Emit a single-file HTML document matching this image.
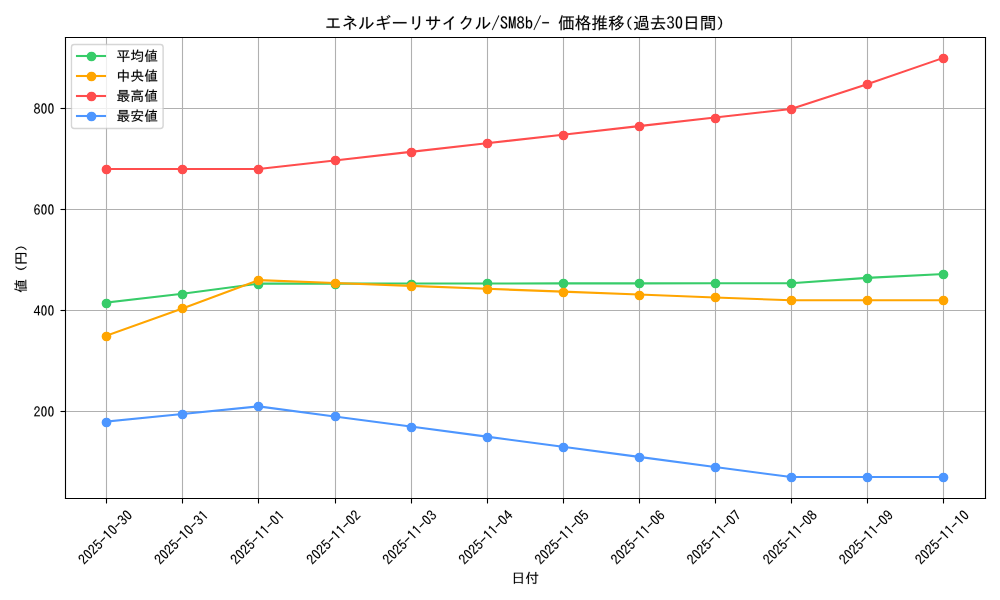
<!DOCTYPE html>
<html><head><meta charset="utf-8"><title>chart</title>
<style>html,body{margin:0;padding:0;background:#fff;width:1000px;height:600px;overflow:hidden;font-family:"Liberation Sans",sans-serif}svg{display:block}g[id^="text_"] use{stroke:#000;stroke-width:60}</style>
</head><body>
<svg width="1000" height="600" viewBox="0 0 720 432" version="1.1">
<defs>
<style type="text/css">*{stroke-linejoin: round; stroke-linecap: butt}</style>
</defs>
<g id="figure_1">
<g id="patch_1">
<path d="M 0 432
L 720 432
L 720 0
L 0 0
z
" style="fill: #ffffff"/>
</g>
<g id="axes_1">
<g id="patch_2">
<path d="M 46.4472 358.56
L 709.2 358.56
L 709.2 26.64
L 46.4472 26.64
z
" style="fill: #ffffff"/>
</g>
<g id="matplotlib.axis_1">
<g id="xtick_1">
<g id="line2d_1">
<path d="M 76.68 358.92 L 76.68 27" clip-path="url(#p00c736a23d)" style="fill: none; stroke: #b0b0b0; stroke-width: 0.8; stroke-linecap: square"/>
</g>
<g id="line2d_2">
<defs>
<path id="m1504cfccaf" d="M 0.36 0.36 L 0.36 3.96" style="stroke: #000000; stroke-width: 0.8"/>
</defs>
<g>
<use href="#m1504cfccaf" x="76.32" y="358.56" style="stroke: #000000; stroke-width: 0.8"/>
</g>
</g>
<g id="text_1">
<!-- 2025-10-30 -->
<g transform="translate(60.789481 407.161269) rotate(-45) scale(0.1 -0.1)">
<defs>
<path id="IPAGothicMS-32" d="M 2900 325
L 250 325
Q 441 1553 1528 2453
Q 1963 2806 2116 3034
Q 2316 3319 2316 3706
Q 2316 4022 2175 4219
Q 1994 4494 1631 4494
Q 894 4494 825 3406
L 322 3406
Q 359 4056 628 4428
Q 981 4928 1644 4928
Q 2106 4928 2425 4659
Q 2828 4313 2828 3713
Q 2828 2875 1881 2156
Q 1072 1541 909 800
L 2900 800
L 2900 325
z
" transform="scale(0.015625)"/>
<path id="IPAGothicMS-30" d="M 1600 4934
Q 2844 4934 2844 2566
Q 2844 197 1600 197
Q 359 197 359 2566
Q 359 4934 1600 4934
z
M 2304 2189
Q 2331 2566 2304 2942
Q 2278 3319 2198 3637
Q 2119 3956 2000 4168
Q 1881 4381 1740 4456
Q 1600 4531 1461 4456
Q 1322 4381 1203 4168
Q 1084 3956 1004 3637
Q 925 3319 898 2942
Q 872 2566 898 2189
Q 925 1813 1004 1494
Q 1084 1175 1203 962
Q 1322 750 1461 675
Q 1600 600 1740 675
Q 1881 750 2000 962
Q 2119 1175 2198 1494
Q 2278 1813 2304 2189
z
" transform="scale(0.015625)"/>
<path id="IPAGothicMS-35" d="M 566 4806
L 2691 4806
L 2691 4359
L 1013 4359
L 944 2888
Q 1259 3250 1738 3250
Q 2250 3250 2588 2816
Q 2909 2397 2909 1772
Q 2909 1238 2697 844
Q 2341 197 1591 197
Q 538 197 328 1375
L 841 1375
Q 947 644 1588 644
Q 2000 644 2228 997
Q 2422 1294 2422 1766
Q 2422 2184 2259 2456
Q 2059 2822 1653 2822
Q 1156 2822 859 2225
L 456 2309
L 566 4806
z
" transform="scale(0.015625)"/>
<path id="IPAGothicMS-2d" d="M 313 2663
L 2884 2663
L 2884 2203
L 313 2203
L 313 2663
z
" transform="scale(0.015625)"/>
<path id="IPAGothicMS-31" d="M 1428 325
L 1428 4153
Q 1188 3991 756 3809
L 756 4325
Q 1256 4509 1563 4806
L 1953 4806
L 1953 325
L 1428 325
z
" transform="scale(0.015625)"/>
<path id="IPAGothicMS-33" d="M 1113 2931
L 1431 2931
Q 1841 2931 1994 3047
Q 2281 3269 2281 3713
Q 2281 4500 1566 4500
Q 972 4500 838 3828
L 331 3828
Q 400 4250 625 4525
Q 969 4934 1566 4934
Q 2066 4934 2391 4647
Q 2775 4309 2775 3731
Q 2775 2953 2078 2713
Q 2919 2388 2919 1528
Q 2919 978 2606 625
Q 2231 197 1575 197
Q 959 197 594 619
Q 325 928 269 1472
L 794 1472
Q 859 638 1575 638
Q 1906 638 2131 825
Q 2413 1066 2413 1528
Q 2413 2522 1431 2522
L 1113 2522
L 1113 2931
z
" transform="scale(0.015625)"/>
</defs>
<use href="#IPAGothicMS-32"/>
<use href="#IPAGothicMS-30" transform="translate(50 0)"/>
<use href="#IPAGothicMS-32" transform="translate(100 0)"/>
<use href="#IPAGothicMS-35" transform="translate(150 0)"/>
<use href="#IPAGothicMS-2d" transform="translate(200 0)"/>
<use href="#IPAGothicMS-31" transform="translate(250 0)"/>
<use href="#IPAGothicMS-30" transform="translate(300 0)"/>
<use href="#IPAGothicMS-2d" transform="translate(350 0)"/>
<use href="#IPAGothicMS-33" transform="translate(400 0)"/>
<use href="#IPAGothicMS-30" transform="translate(450 0)"/>
</g>
</g>
</g>
<g id="xtick_2">
<g id="line2d_3">
<path d="M 131.4 358.92 L 131.4 27" clip-path="url(#p00c736a23d)" style="fill: none; stroke: #b0b0b0; stroke-width: 0.8; stroke-linecap: square"/>
</g>
<g id="line2d_4">
<g>
<use href="#m1504cfccaf" x="131.04" y="358.56" style="stroke: #000000; stroke-width: 0.8"/>
</g>
</g>
<g id="text_2">
<!-- 2025-10-31 -->
<g transform="translate(115.56244 407.161269) rotate(-45) scale(0.1 -0.1)">
<use href="#IPAGothicMS-32"/>
<use href="#IPAGothicMS-30" transform="translate(50 0)"/>
<use href="#IPAGothicMS-32" transform="translate(100 0)"/>
<use href="#IPAGothicMS-35" transform="translate(150 0)"/>
<use href="#IPAGothicMS-2d" transform="translate(200 0)"/>
<use href="#IPAGothicMS-31" transform="translate(250 0)"/>
<use href="#IPAGothicMS-30" transform="translate(300 0)"/>
<use href="#IPAGothicMS-2d" transform="translate(350 0)"/>
<use href="#IPAGothicMS-33" transform="translate(400 0)"/>
<use href="#IPAGothicMS-31" transform="translate(450 0)"/>
</g>
</g>
</g>
<g id="xtick_3">
<g id="line2d_5">
<path d="M 186.12 358.92 L 186.12 27" clip-path="url(#p00c736a23d)" style="fill: none; stroke: #b0b0b0; stroke-width: 0.8; stroke-linecap: square"/>
</g>
<g id="line2d_6">
<g>
<use href="#m1504cfccaf" x="185.76" y="358.56" style="stroke: #000000; stroke-width: 0.8"/>
</g>
</g>
<g id="text_3">
<!-- 2025-11-01 -->
<g transform="translate(170.335398 407.161269) rotate(-45) scale(0.1 -0.1)">
<use href="#IPAGothicMS-32"/>
<use href="#IPAGothicMS-30" transform="translate(50 0)"/>
<use href="#IPAGothicMS-32" transform="translate(100 0)"/>
<use href="#IPAGothicMS-35" transform="translate(150 0)"/>
<use href="#IPAGothicMS-2d" transform="translate(200 0)"/>
<use href="#IPAGothicMS-31" transform="translate(250 0)"/>
<use href="#IPAGothicMS-31" transform="translate(300 0)"/>
<use href="#IPAGothicMS-2d" transform="translate(350 0)"/>
<use href="#IPAGothicMS-30" transform="translate(400 0)"/>
<use href="#IPAGothicMS-31" transform="translate(450 0)"/>
</g>
</g>
</g>
<g id="xtick_4">
<g id="line2d_7">
<path d="M 241.56 358.92 L 241.56 27" clip-path="url(#p00c736a23d)" style="fill: none; stroke: #b0b0b0; stroke-width: 0.8; stroke-linecap: square"/>
</g>
<g id="line2d_8">
<g>
<use href="#m1504cfccaf" x="241.2" y="358.56" style="stroke: #000000; stroke-width: 0.8"/>
</g>
</g>
<g id="text_4">
<!-- 2025-11-02 -->
<g transform="translate(225.108357 407.161269) rotate(-45) scale(0.1 -0.1)">
<use href="#IPAGothicMS-32"/>
<use href="#IPAGothicMS-30" transform="translate(50 0)"/>
<use href="#IPAGothicMS-32" transform="translate(100 0)"/>
<use href="#IPAGothicMS-35" transform="translate(150 0)"/>
<use href="#IPAGothicMS-2d" transform="translate(200 0)"/>
<use href="#IPAGothicMS-31" transform="translate(250 0)"/>
<use href="#IPAGothicMS-31" transform="translate(300 0)"/>
<use href="#IPAGothicMS-2d" transform="translate(350 0)"/>
<use href="#IPAGothicMS-30" transform="translate(400 0)"/>
<use href="#IPAGothicMS-32" transform="translate(450 0)"/>
</g>
</g>
</g>
<g id="xtick_5">
<g id="line2d_9">
<path d="M 296.28 358.92 L 296.28 27" clip-path="url(#p00c736a23d)" style="fill: none; stroke: #b0b0b0; stroke-width: 0.8; stroke-linecap: square"/>
</g>
<g id="line2d_10">
<g>
<use href="#m1504cfccaf" x="295.92" y="358.56" style="stroke: #000000; stroke-width: 0.8"/>
</g>
</g>
<g id="text_5">
<!-- 2025-11-03 -->
<g transform="translate(279.881316 407.161269) rotate(-45) scale(0.1 -0.1)">
<use href="#IPAGothicMS-32"/>
<use href="#IPAGothicMS-30" transform="translate(50 0)"/>
<use href="#IPAGothicMS-32" transform="translate(100 0)"/>
<use href="#IPAGothicMS-35" transform="translate(150 0)"/>
<use href="#IPAGothicMS-2d" transform="translate(200 0)"/>
<use href="#IPAGothicMS-31" transform="translate(250 0)"/>
<use href="#IPAGothicMS-31" transform="translate(300 0)"/>
<use href="#IPAGothicMS-2d" transform="translate(350 0)"/>
<use href="#IPAGothicMS-30" transform="translate(400 0)"/>
<use href="#IPAGothicMS-33" transform="translate(450 0)"/>
</g>
</g>
</g>
<g id="xtick_6">
<g id="line2d_11">
<path d="M 351 358.92 L 351 27" clip-path="url(#p00c736a23d)" style="fill: none; stroke: #b0b0b0; stroke-width: 0.8; stroke-linecap: square"/>
</g>
<g id="line2d_12">
<g>
<use href="#m1504cfccaf" x="350.64" y="358.56" style="stroke: #000000; stroke-width: 0.8"/>
</g>
</g>
<g id="text_6">
<!-- 2025-11-04 -->
<g transform="translate(334.654274 407.161269) rotate(-45) scale(0.1 -0.1)">
<defs>
<path id="IPAGothicMS-34" d="M 1966 4806
L 2509 4806
L 2509 1869
L 3041 1869
L 3041 1434
L 2509 1434
L 2509 325
L 2034 325
L 2034 1434
L 159 1434
L 159 1881
L 1966 4806
z
M 2034 4109
L 641 1869
L 2034 1869
L 2034 4109
z
" transform="scale(0.015625)"/>
</defs>
<use href="#IPAGothicMS-32"/>
<use href="#IPAGothicMS-30" transform="translate(50 0)"/>
<use href="#IPAGothicMS-32" transform="translate(100 0)"/>
<use href="#IPAGothicMS-35" transform="translate(150 0)"/>
<use href="#IPAGothicMS-2d" transform="translate(200 0)"/>
<use href="#IPAGothicMS-31" transform="translate(250 0)"/>
<use href="#IPAGothicMS-31" transform="translate(300 0)"/>
<use href="#IPAGothicMS-2d" transform="translate(350 0)"/>
<use href="#IPAGothicMS-30" transform="translate(400 0)"/>
<use href="#IPAGothicMS-34" transform="translate(450 0)"/>
</g>
</g>
</g>
<g id="xtick_7">
<g id="line2d_13">
<path d="M 405.72 358.92 L 405.72 27" clip-path="url(#p00c736a23d)" style="fill: none; stroke: #b0b0b0; stroke-width: 0.8; stroke-linecap: square"/>
</g>
<g id="line2d_14">
<g>
<use href="#m1504cfccaf" x="405.36" y="358.56" style="stroke: #000000; stroke-width: 0.8"/>
</g>
</g>
<g id="text_7">
<!-- 2025-11-05 -->
<g transform="translate(389.427233 407.161269) rotate(-45) scale(0.1 -0.1)">
<use href="#IPAGothicMS-32"/>
<use href="#IPAGothicMS-30" transform="translate(50 0)"/>
<use href="#IPAGothicMS-32" transform="translate(100 0)"/>
<use href="#IPAGothicMS-35" transform="translate(150 0)"/>
<use href="#IPAGothicMS-2d" transform="translate(200 0)"/>
<use href="#IPAGothicMS-31" transform="translate(250 0)"/>
<use href="#IPAGothicMS-31" transform="translate(300 0)"/>
<use href="#IPAGothicMS-2d" transform="translate(350 0)"/>
<use href="#IPAGothicMS-30" transform="translate(400 0)"/>
<use href="#IPAGothicMS-35" transform="translate(450 0)"/>
</g>
</g>
</g>
<g id="xtick_8">
<g id="line2d_15">
<path d="M 460.44 358.92 L 460.44 27" clip-path="url(#p00c736a23d)" style="fill: none; stroke: #b0b0b0; stroke-width: 0.8; stroke-linecap: square"/>
</g>
<g id="line2d_16">
<g>
<use href="#m1504cfccaf" x="460.08" y="358.56" style="stroke: #000000; stroke-width: 0.8"/>
</g>
</g>
<g id="text_8">
<!-- 2025-11-06 -->
<g transform="translate(444.200192 407.161269) rotate(-45) scale(0.1 -0.1)">
<defs>
<path id="IPAGothicMS-36" d="M 2322 3809
Q 2225 4488 1713 4488
Q 1269 4488 1028 3950
Q 803 3447 794 2588
Q 1159 3119 1725 3119
Q 2194 3119 2519 2772
Q 2903 2369 2903 1709
Q 2903 1159 2641 750
Q 2284 200 1638 200
Q 1050 200 697 738
Q 319 1328 319 2375
Q 319 3488 650 4172
Q 1028 4934 1706 4934
Q 2634 4934 2847 3809
L 2322 3809
z
M 1644 2703
Q 1272 2703 1047 2363
Q 875 2094 875 1691
Q 875 1328 997 1075
Q 1209 641 1650 641
Q 2003 641 2219 959
Q 2409 1241 2409 1697
Q 2409 2113 2244 2375
Q 2041 2703 1644 2703
z
" transform="scale(0.015625)"/>
</defs>
<use href="#IPAGothicMS-32"/>
<use href="#IPAGothicMS-30" transform="translate(50 0)"/>
<use href="#IPAGothicMS-32" transform="translate(100 0)"/>
<use href="#IPAGothicMS-35" transform="translate(150 0)"/>
<use href="#IPAGothicMS-2d" transform="translate(200 0)"/>
<use href="#IPAGothicMS-31" transform="translate(250 0)"/>
<use href="#IPAGothicMS-31" transform="translate(300 0)"/>
<use href="#IPAGothicMS-2d" transform="translate(350 0)"/>
<use href="#IPAGothicMS-30" transform="translate(400 0)"/>
<use href="#IPAGothicMS-36" transform="translate(450 0)"/>
</g>
</g>
</g>
<g id="xtick_9">
<g id="line2d_17">
<path d="M 515.16 358.92 L 515.16 27" clip-path="url(#p00c736a23d)" style="fill: none; stroke: #b0b0b0; stroke-width: 0.8; stroke-linecap: square"/>
</g>
<g id="line2d_18">
<g>
<use href="#m1504cfccaf" x="514.8" y="358.56" style="stroke: #000000; stroke-width: 0.8"/>
</g>
</g>
<g id="text_9">
<!-- 2025-11-07 -->
<g transform="translate(498.97315 407.161269) rotate(-45) scale(0.1 -0.1)">
<defs>
<path id="IPAGothicMS-37" d="M 319 4806
L 2878 4806
L 2878 4441
Q 1978 2213 1528 325
L 947 325
Q 1434 2050 2328 4319
L 319 4319
L 319 4806
z
" transform="scale(0.015625)"/>
</defs>
<use href="#IPAGothicMS-32"/>
<use href="#IPAGothicMS-30" transform="translate(50 0)"/>
<use href="#IPAGothicMS-32" transform="translate(100 0)"/>
<use href="#IPAGothicMS-35" transform="translate(150 0)"/>
<use href="#IPAGothicMS-2d" transform="translate(200 0)"/>
<use href="#IPAGothicMS-31" transform="translate(250 0)"/>
<use href="#IPAGothicMS-31" transform="translate(300 0)"/>
<use href="#IPAGothicMS-2d" transform="translate(350 0)"/>
<use href="#IPAGothicMS-30" transform="translate(400 0)"/>
<use href="#IPAGothicMS-37" transform="translate(450 0)"/>
</g>
</g>
</g>
<g id="xtick_10">
<g id="line2d_19">
<path d="M 569.88 358.92 L 569.88 27" clip-path="url(#p00c736a23d)" style="fill: none; stroke: #b0b0b0; stroke-width: 0.8; stroke-linecap: square"/>
</g>
<g id="line2d_20">
<g>
<use href="#m1504cfccaf" x="569.52" y="358.56" style="stroke: #000000; stroke-width: 0.8"/>
</g>
</g>
<g id="text_10">
<!-- 2025-11-08 -->
<g transform="translate(553.746109 407.161269) rotate(-45) scale(0.1 -0.1)">
<defs>
<path id="IPAGothicMS-38" d="M 1050 2741
Q 403 3056 403 3750
Q 403 4084 563 4359
Q 900 4934 1600 4934
Q 1950 4934 2253 4750
Q 2797 4416 2797 3750
Q 2797 3056 2150 2741
Q 2978 2422 2978 1541
Q 2978 1038 2697 678
Q 2322 197 1600 197
Q 988 197 616 550
Q 225 922 225 1541
Q 225 2422 1050 2741
z
M 1600 4525
Q 1278 4525 1075 4294
Q 891 4078 891 3756
Q 891 3544 969 3372
Q 1159 2956 1606 2956
Q 1863 2956 2041 3116
Q 2309 3347 2309 3756
Q 2309 4156 2041 4378
Q 1856 4525 1600 4525
z
M 1594 2497
Q 1178 2497 931 2191
Q 725 1925 725 1541
Q 725 1172 925 925
Q 1172 619 1600 619
Q 2031 619 2281 925
Q 2478 1172 2478 1541
Q 2478 2022 2184 2278
Q 1947 2497 1594 2497
z
" transform="scale(0.015625)"/>
</defs>
<use href="#IPAGothicMS-32"/>
<use href="#IPAGothicMS-30" transform="translate(50 0)"/>
<use href="#IPAGothicMS-32" transform="translate(100 0)"/>
<use href="#IPAGothicMS-35" transform="translate(150 0)"/>
<use href="#IPAGothicMS-2d" transform="translate(200 0)"/>
<use href="#IPAGothicMS-31" transform="translate(250 0)"/>
<use href="#IPAGothicMS-31" transform="translate(300 0)"/>
<use href="#IPAGothicMS-2d" transform="translate(350 0)"/>
<use href="#IPAGothicMS-30" transform="translate(400 0)"/>
<use href="#IPAGothicMS-38" transform="translate(450 0)"/>
</g>
</g>
</g>
<g id="xtick_11">
<g id="line2d_21">
<path d="M 624.6 358.92 L 624.6 27" clip-path="url(#p00c736a23d)" style="fill: none; stroke: #b0b0b0; stroke-width: 0.8; stroke-linecap: square"/>
</g>
<g id="line2d_22">
<g>
<use href="#m1504cfccaf" x="624.24" y="358.56" style="stroke: #000000; stroke-width: 0.8"/>
</g>
</g>
<g id="text_11">
<!-- 2025-11-09 -->
<g transform="translate(608.519068 407.161269) rotate(-45) scale(0.1 -0.1)">
<defs>
<path id="IPAGothicMS-39" d="M 909 1363
Q 988 666 1569 666
Q 2431 666 2422 2500
Q 2063 1972 1519 1972
Q 859 1972 531 2588
Q 347 2947 347 3419
Q 347 4019 672 4459
Q 1022 4934 1569 4934
Q 2888 4934 2888 2706
Q 2888 197 1575 197
Q 975 197 628 716
Q 450 984 384 1363
L 909 1363
z
M 1591 4494
Q 834 4494 834 3431
Q 834 3038 969 2778
Q 1169 2394 1591 2394
Q 1859 2394 2069 2631
Q 2338 2938 2338 3431
Q 2338 3925 2125 4213
Q 1922 4494 1591 4494
z
" transform="scale(0.015625)"/>
</defs>
<use href="#IPAGothicMS-32"/>
<use href="#IPAGothicMS-30" transform="translate(50 0)"/>
<use href="#IPAGothicMS-32" transform="translate(100 0)"/>
<use href="#IPAGothicMS-35" transform="translate(150 0)"/>
<use href="#IPAGothicMS-2d" transform="translate(200 0)"/>
<use href="#IPAGothicMS-31" transform="translate(250 0)"/>
<use href="#IPAGothicMS-31" transform="translate(300 0)"/>
<use href="#IPAGothicMS-2d" transform="translate(350 0)"/>
<use href="#IPAGothicMS-30" transform="translate(400 0)"/>
<use href="#IPAGothicMS-39" transform="translate(450 0)"/>
</g>
</g>
</g>
<g id="xtick_12">
<g id="line2d_23">
<path d="M 679.32 358.92 L 679.32 27" clip-path="url(#p00c736a23d)" style="fill: none; stroke: #b0b0b0; stroke-width: 0.8; stroke-linecap: square"/>
</g>
<g id="line2d_24">
<g>
<use href="#m1504cfccaf" x="678.96" y="358.56" style="stroke: #000000; stroke-width: 0.8"/>
</g>
</g>
<g id="text_12">
<!-- 2025-11-10 -->
<g transform="translate(663.292026 407.161269) rotate(-45) scale(0.1 -0.1)">
<use href="#IPAGothicMS-32"/>
<use href="#IPAGothicMS-30" transform="translate(50 0)"/>
<use href="#IPAGothicMS-32" transform="translate(100 0)"/>
<use href="#IPAGothicMS-35" transform="translate(150 0)"/>
<use href="#IPAGothicMS-2d" transform="translate(200 0)"/>
<use href="#IPAGothicMS-31" transform="translate(250 0)"/>
<use href="#IPAGothicMS-31" transform="translate(300 0)"/>
<use href="#IPAGothicMS-2d" transform="translate(350 0)"/>
<use href="#IPAGothicMS-31" transform="translate(400 0)"/>
<use href="#IPAGothicMS-30" transform="translate(450 0)"/>
</g>
</g>
</g>
<g id="text_13">
<!-- 日付 -->
<g transform="translate(368.1836 419.831865) scale(0.1 -0.1)">
<defs>
<path id="IPAGothicMS-65e5" d="M 5231 4800
L 5231 -288
L 4744 -288
L 4744 128
L 1647 128
L 1647 -288
L 1159 -288
L 1159 4800
L 5231 4800
z
M 1647 4372
L 1647 2731
L 4744 2731
L 4744 4372
L 1647 4372
z
M 1647 2297
L 1647 556
L 4744 556
L 4744 2297
L 1647 2297
z
" transform="scale(0.015625)"/>
<path id="IPAGothicMS-4ed8" d="M 1681 3772
L 1681 -447
L 1213 -447
L 1213 2825
Q 913 2316 578 1863
L 316 2253
Q 1241 3463 1653 5184
L 2128 5069
Q 1928 4378 1719 3859
L 1681 3772
z
M 5084 3816
L 5994 3816
L 5994 3388
L 5109 3388
L 5109 213
Q 5109 -78 5006 -191
Q 4888 -319 4525 -319
Q 4031 -319 3516 -266
L 3431 238
Q 3978 141 4403 141
Q 4634 141 4634 384
L 4634 3388
L 2031 3388
L 2031 3816
L 4609 3816
L 4609 5153
L 5084 5153
L 5084 3816
z
M 3431 1172
Q 3034 1994 2547 2566
L 2931 2822
Q 3428 2231 3853 1472
L 3431 1172
z
" transform="scale(0.015625)"/>
</defs>
<use href="#IPAGothicMS-65e5"/>
<use href="#IPAGothicMS-4ed8" transform="translate(100 0)"/>
</g>
</g>
</g>
<g id="matplotlib.axis_2">
<g id="ytick_1">
<g id="line2d_25">
<path d="M 47.16 296.28 L 709.56 296.28" clip-path="url(#p00c736a23d)" style="fill: none; stroke: #b0b0b0; stroke-width: 0.8; stroke-linecap: square"/>
</g>
<g id="line2d_26">
<defs>
<path id="m5d545ce8f8" d="M 0.36 0.36 L -3.24 0.36" style="stroke: #000000; stroke-width: 0.8"/>
</defs>
<g>
<use href="#m5d545ce8f8" x="46.8" y="295.92" style="stroke: #000000; stroke-width: 0.8"/>
</g>
</g>
<g id="text_14">
<!-- 200 -->
<g transform="translate(24.1592 300.254079) scale(0.1 -0.1)">
<use href="#IPAGothicMS-32"/>
<use href="#IPAGothicMS-30" transform="translate(50 0)"/>
<use href="#IPAGothicMS-30" transform="translate(100 0)"/>
</g>
</g>
</g>
<g id="ytick_2">
<g id="line2d_27">
<path d="M 47.16 223.56 L 709.56 223.56" clip-path="url(#p00c736a23d)" style="fill: none; stroke: #b0b0b0; stroke-width: 0.8; stroke-linecap: square"/>
</g>
<g id="line2d_28">
<g>
<use href="#m5d545ce8f8" x="46.8" y="223.2" style="stroke: #000000; stroke-width: 0.8"/>
</g>
</g>
<g id="text_15">
<!-- 400 -->
<g transform="translate(24.1592 227.54433) scale(0.1 -0.1)">
<use href="#IPAGothicMS-34"/>
<use href="#IPAGothicMS-30" transform="translate(50 0)"/>
<use href="#IPAGothicMS-30" transform="translate(100 0)"/>
</g>
</g>
</g>
<g id="ytick_3">
<g id="line2d_29">
<path d="M 47.16 150.84 L 709.56 150.84" clip-path="url(#p00c736a23d)" style="fill: none; stroke: #b0b0b0; stroke-width: 0.8; stroke-linecap: square"/>
</g>
<g id="line2d_30">
<g>
<use href="#m5d545ce8f8" x="46.8" y="150.48" style="stroke: #000000; stroke-width: 0.8"/>
</g>
</g>
<g id="text_16">
<!-- 600 -->
<g transform="translate(24.1592 154.834582) scale(0.1 -0.1)">
<use href="#IPAGothicMS-36"/>
<use href="#IPAGothicMS-30" transform="translate(50 0)"/>
<use href="#IPAGothicMS-30" transform="translate(100 0)"/>
</g>
</g>
</g>
<g id="ytick_4">
<g id="line2d_31">
<path d="M 47.16 78.12 L 709.56 78.12" clip-path="url(#p00c736a23d)" style="fill: none; stroke: #b0b0b0; stroke-width: 0.8; stroke-linecap: square"/>
</g>
<g id="line2d_32">
<g>
<use href="#m5d545ce8f8" x="46.8" y="77.76" style="stroke: #000000; stroke-width: 0.8"/>
</g>
</g>
<g id="text_17">
<!-- 800 -->
<g transform="translate(24.1592 82.124834) scale(0.1 -0.1)">
<use href="#IPAGothicMS-38"/>
<use href="#IPAGothicMS-30" transform="translate(50 0)"/>
<use href="#IPAGothicMS-30" transform="translate(100 0)"/>
</g>
</g>
</g>
<g id="text_18">
<!-- 値 (円) -->
<g transform="translate(18.655075 210.892) rotate(-90) scale(0.1 -0.1)">
<defs>
<path id="IPAGothicMS-5024" d="M 4172 3675
L 5453 3675
L 5453 684
L 3019 684
L 3019 3675
L 3747 3675
Q 3788 3884 3825 4153
L 2144 4153
L 2144 4544
L 3881 4544
Q 3922 4841 3966 5325
L 4434 5272
L 4391 4953
Q 4331 4578 4331 4544
L 5863 4544
L 5863 4153
L 4269 4153
Q 4200 3781 4172 3675
z
M 5038 3316
L 3434 3316
L 3434 2803
L 5038 2803
L 5038 3316
z
M 3434 2450
L 3434 1941
L 5038 1941
L 5038 2450
L 3434 2450
z
M 3434 1588
L 3434 1044
L 5038 1044
L 5038 1588
L 3434 1588
z
M 1509 3669
L 1509 -447
L 1069 -447
L 1069 2728
Q 856 2338 531 1875
L 288 2266
Q 1163 3534 1541 5325
L 1975 5225
Q 1791 4378 1509 3669
z
M 2488 244
L 6034 244
L 6034 -153
L 2488 -153
L 2488 -447
L 2059 -447
L 2059 3213
L 2488 3213
L 2488 244
z
" transform="scale(0.015625)"/>
<path id="IPAGothicMS-20" transform="scale(0.015625)"/>
<path id="IPAGothicMS-28" d="M 2219 -191
Q 997 831 997 2253
Q 997 3663 2219 4684
L 2719 4684
Q 1478 3644 1478 2241
Q 1478 847 2719 -191
L 2219 -191
z
" transform="scale(0.015625)"/>
<path id="IPAGothicMS-5186" d="M 5594 4806
L 5594 319
Q 5594 34 5491 -97
Q 5366 -269 4959 -269
Q 4469 -269 3897 -225
L 3809 275
Q 4384 206 4844 206
Q 5106 206 5106 434
L 5106 2119
L 1281 2119
L 1281 -359
L 794 -359
L 794 4806
L 5594 4806
z
M 1281 4366
L 1281 2547
L 2944 2547
L 2944 4366
L 1281 4366
z
M 5106 2547
L 5106 4366
L 3413 4366
L 3413 2547
L 5106 2547
z
" transform="scale(0.015625)"/>
<path id="IPAGothicMS-29" d="M 481 -191
Q 1722 847 1722 2247
Q 1722 3638 481 4684
L 981 4684
Q 2203 3663 2203 2247
Q 2203 831 981 -191
L 481 -191
z
" transform="scale(0.015625)"/>
</defs>
<use href="#IPAGothicMS-5024"/>
<use href="#IPAGothicMS-20" transform="translate(100 0)"/>
<use href="#IPAGothicMS-28" transform="translate(150 0)"/>
<use href="#IPAGothicMS-5186" transform="translate(200 0)"/>
<use href="#IPAGothicMS-29" transform="translate(300 0)"/>
</g>
</g>
</g>
<g id="line2d_33">
<path d="M 76.572327 217.866637
L 131.345286 211.504535
L 186.118245 204.23356
L 240.891203 204.197205
L 295.664162 204.16085
L 350.437121 204.08814
L 405.210079 204.051785
L 459.983038 204.01543
L 514.755997 203.979076
L 569.528955 203.942721
L 624.301914 200.052749
L 679.074873 197.326134
" clip-path="url(#p00c736a23d)" style="fill: none; stroke: #37cc69; stroke-width: 1.5; stroke-linecap: square"/>
<defs>
<path id="mdca675d4f2" d="M 0 3
C 0.795609 3 1.55874 2.683901 2.12132 2.12132
C 2.683901 1.55874 3 0.795609 3 0
C 3 -0.795609 2.683901 -1.55874 2.12132 -2.12132
C 1.55874 -2.683901 0.795609 -3 0 -3
C -0.795609 -3 -1.55874 -2.683901 -2.12132 -2.12132
C -2.683901 -1.55874 -3 -0.795609 -3 0
C -3 0.795609 -2.683901 1.55874 -2.12132 2.12132
C -1.55874 2.683901 -0.795609 3 0 3
z
" style="stroke: #37cc69"/>
</defs>
<g clip-path="url(#p00c736a23d)">
<use href="#mdca675d4f2" x="76.68" y="218.52" style="fill: #37cc69; stroke: #37cc69"/>
<use href="#mdca675d4f2" x="131.4" y="212.04" style="fill: #37cc69; stroke: #37cc69"/>
<use href="#mdca675d4f2" x="186.12" y="204.84" style="fill: #37cc69; stroke: #37cc69"/>
<use href="#mdca675d4f2" x="241.56" y="204.84" style="fill: #37cc69; stroke: #37cc69"/>
<use href="#mdca675d4f2" x="296.28" y="204.84" style="fill: #37cc69; stroke: #37cc69"/>
<use href="#mdca675d4f2" x="351" y="204.12" style="fill: #37cc69; stroke: #37cc69"/>
<use href="#mdca675d4f2" x="405.72" y="204.12" style="fill: #37cc69; stroke: #37cc69"/>
<use href="#mdca675d4f2" x="460.44" y="204.12" style="fill: #37cc69; stroke: #37cc69"/>
<use href="#mdca675d4f2" x="515.16" y="204.12" style="fill: #37cc69; stroke: #37cc69"/>
<use href="#mdca675d4f2" x="569.88" y="204.12" style="fill: #37cc69; stroke: #37cc69"/>
<use href="#mdca675d4f2" x="624.6" y="200.52" style="fill: #37cc69; stroke: #37cc69"/>
<use href="#mdca675d4f2" x="679.32" y="197.64" style="fill: #37cc69; stroke: #37cc69"/>
</g>
</g>
<g id="line2d_34">
<path d="M 76.572327 241.67908
L 131.345286 222.047448
L 186.118245 201.688719
L 240.891203 203.76614
L 295.664162 205.843561
L 350.437121 207.920983
L 405.210079 209.998404
L 459.983038 212.075825
L 514.755997 214.153247
L 569.528955 216.230668
L 624.301914 216.230668
L 679.074873 216.230668
" clip-path="url(#p00c736a23d)" style="fill: none; stroke: #ffa500; stroke-width: 1.5; stroke-linecap: square"/>
<defs>
<path id="m3cc280db12" d="M 0 3
C 0.795609 3 1.55874 2.683901 2.12132 2.12132
C 2.683901 1.55874 3 0.795609 3 0
C 3 -0.795609 2.683901 -1.55874 2.12132 -2.12132
C 1.55874 -2.683901 0.795609 -3 0 -3
C -0.795609 -3 -1.55874 -2.683901 -2.12132 -2.12132
C -2.683901 -1.55874 -3 -0.795609 -3 0
C -3 0.795609 -2.683901 1.55874 -2.12132 2.12132
C -1.55874 2.683901 -0.795609 3 0 3
z
" style="stroke: #ffa500"/>
</defs>
<g clip-path="url(#p00c736a23d)">
<use href="#m3cc280db12" x="76.68" y="242.28" style="fill: #ffa500; stroke: #ffa500"/>
<use href="#m3cc280db12" x="131.4" y="222.12" style="fill: #ffa500; stroke: #ffa500"/>
<use href="#m3cc280db12" x="186.12" y="201.96" style="fill: #ffa500; stroke: #ffa500"/>
<use href="#m3cc280db12" x="241.56" y="204.12" style="fill: #ffa500; stroke: #ffa500"/>
<use href="#m3cc280db12" x="296.28" y="206.28" style="fill: #ffa500; stroke: #ffa500"/>
<use href="#m3cc280db12" x="351" y="208.44" style="fill: #ffa500; stroke: #ffa500"/>
<use href="#m3cc280db12" x="405.72" y="210.6" style="fill: #ffa500; stroke: #ffa500"/>
<use href="#m3cc280db12" x="460.44" y="212.76" style="fill: #ffa500; stroke: #ffa500"/>
<use href="#m3cc280db12" x="515.16" y="214.2" style="fill: #ffa500; stroke: #ffa500"/>
<use href="#m3cc280db12" x="569.88" y="216.36" style="fill: #ffa500; stroke: #ffa500"/>
<use href="#m3cc280db12" x="624.6" y="216.36" style="fill: #ffa500; stroke: #ffa500"/>
<use href="#m3cc280db12" x="679.32" y="216.36" style="fill: #ffa500; stroke: #ffa500"/>
</g>
</g>
<g id="line2d_35">
<path d="M 76.572327 121.707996
L 131.345286 121.707996
L 186.118245 121.707996
L 240.891203 115.527667
L 295.664162 109.347338
L 350.437121 103.16701
L 405.210079 96.986681
L 459.983038 90.806353
L 514.755997 84.626024
L 569.528955 78.445696
L 624.301914 60.631807
L 679.074873 41.727273
" clip-path="url(#p00c736a23d)" style="fill: none; stroke: #ff4d4d; stroke-width: 1.5; stroke-linecap: square"/>
<defs>
<path id="m071e3672fa" d="M 0 3
C 0.795609 3 1.55874 2.683901 2.12132 2.12132
C 2.683901 1.55874 3 0.795609 3 0
C 3 -0.795609 2.683901 -1.55874 2.12132 -2.12132
C 1.55874 -2.683901 0.795609 -3 0 -3
C -0.795609 -3 -1.55874 -2.683901 -2.12132 -2.12132
C -2.683901 -1.55874 -3 -0.795609 -3 0
C -3 0.795609 -2.683901 1.55874 -2.12132 2.12132
C -1.55874 2.683901 -0.795609 3 0 3
z
" style="stroke: #ff4d4d"/>
</defs>
<g clip-path="url(#p00c736a23d)">
<use href="#m071e3672fa" x="76.68" y="122.04" style="fill: #ff4d4d; stroke: #ff4d4d"/>
<use href="#m071e3672fa" x="131.4" y="122.04" style="fill: #ff4d4d; stroke: #ff4d4d"/>
<use href="#m071e3672fa" x="186.12" y="122.04" style="fill: #ff4d4d; stroke: #ff4d4d"/>
<use href="#m071e3672fa" x="241.56" y="115.56" style="fill: #ff4d4d; stroke: #ff4d4d"/>
<use href="#m071e3672fa" x="296.28" y="109.8" style="fill: #ff4d4d; stroke: #ff4d4d"/>
<use href="#m071e3672fa" x="351" y="103.32" style="fill: #ff4d4d; stroke: #ff4d4d"/>
<use href="#m071e3672fa" x="405.72" y="97.56" style="fill: #ff4d4d; stroke: #ff4d4d"/>
<use href="#m071e3672fa" x="460.44" y="91.08" style="fill: #ff4d4d; stroke: #ff4d4d"/>
<use href="#m071e3672fa" x="515.16" y="85.32" style="fill: #ff4d4d; stroke: #ff4d4d"/>
<use href="#m071e3672fa" x="569.88" y="78.84" style="fill: #ff4d4d; stroke: #ff4d4d"/>
<use href="#m071e3672fa" x="624.6" y="60.84" style="fill: #ff4d4d; stroke: #ff4d4d"/>
<use href="#m071e3672fa" x="679.32" y="42.12" style="fill: #ff4d4d; stroke: #ff4d4d"/>
</g>
</g>
<g id="line2d_36">
<path d="M 76.572327 303.482366
L 131.345286 298.029135
L 186.118245 292.575904
L 240.891203 299.846878
L 295.664162 307.117853
L 350.437121 314.388828
L 405.210079 321.659803
L 459.983038 328.930778
L 514.755997 336.201752
L 569.528955 343.472727
L 624.301914 343.472727
L 679.074873 343.472727
" clip-path="url(#p00c736a23d)" style="fill: none; stroke: #4d96ff; stroke-width: 1.5; stroke-linecap: square"/>
<defs>
<path id="mcde957ec9b" d="M 0 3
C 0.795609 3 1.55874 2.683901 2.12132 2.12132
C 2.683901 1.55874 3 0.795609 3 0
C 3 -0.795609 2.683901 -1.55874 2.12132 -2.12132
C 1.55874 -2.683901 0.795609 -3 0 -3
C -0.795609 -3 -1.55874 -2.683901 -2.12132 -2.12132
C -2.683901 -1.55874 -3 -0.795609 -3 0
C -3 0.795609 -2.683901 1.55874 -2.12132 2.12132
C -1.55874 2.683901 -0.795609 3 0 3
z
" style="stroke: #4d96ff"/>
</defs>
<g clip-path="url(#p00c736a23d)">
<use href="#mcde957ec9b" x="76.68" y="304.2" style="fill: #4d96ff; stroke: #4d96ff"/>
<use href="#mcde957ec9b" x="131.4" y="298.44" style="fill: #4d96ff; stroke: #4d96ff"/>
<use href="#mcde957ec9b" x="186.12" y="292.68" style="fill: #4d96ff; stroke: #4d96ff"/>
<use href="#mcde957ec9b" x="241.56" y="299.88" style="fill: #4d96ff; stroke: #4d96ff"/>
<use href="#mcde957ec9b" x="296.28" y="307.8" style="fill: #4d96ff; stroke: #4d96ff"/>
<use href="#mcde957ec9b" x="351" y="315" style="fill: #4d96ff; stroke: #4d96ff"/>
<use href="#mcde957ec9b" x="405.72" y="322.2" style="fill: #4d96ff; stroke: #4d96ff"/>
<use href="#mcde957ec9b" x="460.44" y="329.4" style="fill: #4d96ff; stroke: #4d96ff"/>
<use href="#mcde957ec9b" x="515.16" y="336.6" style="fill: #4d96ff; stroke: #4d96ff"/>
<use href="#mcde957ec9b" x="569.88" y="343.8" style="fill: #4d96ff; stroke: #4d96ff"/>
<use href="#mcde957ec9b" x="624.6" y="343.8" style="fill: #4d96ff; stroke: #4d96ff"/>
<use href="#mcde957ec9b" x="679.32" y="343.8" style="fill: #4d96ff; stroke: #4d96ff"/>
</g>
</g>
<g id="patch_3">
<path d="M 47.16 358.92 L 47.16 27" style="fill: none; stroke: #000000; stroke-width: 0.8; stroke-linejoin: miter; stroke-linecap: square"/>
</g>
<g id="patch_4">
<path d="M 709.56 358.92 L 709.56 27" style="fill: none; stroke: #000000; stroke-width: 0.8; stroke-linejoin: miter; stroke-linecap: square"/>
</g>
<g id="patch_5">
<path d="M 47.16 358.92 L 709.56 358.92" style="fill: none; stroke: #000000; stroke-width: 0.8; stroke-linejoin: miter; stroke-linecap: square"/>
</g>
<g id="patch_6">
<path d="M 47.16 27 L 709.56 27" style="fill: none; stroke: #000000; stroke-width: 0.8; stroke-linejoin: miter; stroke-linecap: square"/>
</g>
<g id="text_19">
<!-- エネルギーリサイクル/SM8b/- 価格推移(過去30日間) -->
<g transform="translate(233.8236 20.928) scale(0.12 -0.12)">
<defs>
<path id="IPAGothicMS-30a8" d="M 1109 4063
L 5294 4063
L 5294 3594
L 3444 3594
L 3444 988
L 5759 988
L 5759 513
L 641 513
L 641 988
L 2913 988
L 2913 3594
L 1109 3594
L 1109 4063
z
" transform="scale(0.015625)"/>
<path id="IPAGothicMS-30cd" d="M 1284 3963
L 4800 3963
L 5063 3688
Q 4419 2941 3463 2259
L 3463 -294
L 2950 -294
L 2950 1928
Q 1959 1331 1053 1019
L 728 1453
Q 1794 1756 2841 2409
Q 3669 2919 4250 3509
L 1284 3509
L 1284 3963
z
M 3538 4031
Q 2966 4459 2163 4850
L 2444 5222
Q 3203 4884 3872 4428
L 3538 4031
z
M 5438 966
Q 4778 1541 3856 2094
L 4159 2444
Q 5078 1947 5822 1375
L 5438 966
z
" transform="scale(0.015625)"/>
<path id="IPAGothicMS-30eb" d="M 353 331
Q 1313 994 1544 2022
Q 1684 2650 1684 4397
L 2203 4397
L 2203 4153
L 2203 4116
Q 2203 2259 1934 1491
Q 1619 588 744 -38
L 353 331
z
M 3125 4666
L 3650 4666
L 3650 769
Q 4875 1488 5672 2731
L 5997 2278
Q 5075 966 3516 63
L 3125 359
L 3125 4666
z
" transform="scale(0.015625)"/>
<path id="IPAGothicMS-30ae" d="M 2919 5056
L 3169 3834
L 3444 3878
Q 3725 3928 4125 3997
Q 4494 4059 4597 4078
L 4884 4128
L 4969 3681
L 3253 3397
L 3475 2284
Q 4219 2406 4872 2522
L 5238 2584
L 5634 2656
L 5722 2194
L 3566 1844
L 3969 -147
L 3475 -263
L 3072 1759
L 834 1388
L 744 1856
L 1213 1925
L 1581 1984
L 2197 2081
L 2575 2138
L 2984 2203
L 2759 3316
L 1019 3034
L 941 3488
L 1288 3541
Q 2063 3644 2669 3756
L 2428 4959
L 2919 5056
z
M 5128 4031
Q 4866 4484 4553 4844
L 4872 5050
Q 5159 4759 5472 4263
L 5128 4031
z
M 5722 4428
Q 5463 4850 5122 5203
L 5441 5428
Q 5766 5131 6069 4672
L 5722 4428
z
" transform="scale(0.015625)"/>
<path id="IPAGothicMS-30fc" d="M 588 2688
L 5809 2688
L 5809 2175
L 588 2175
L 588 2688
z
" transform="scale(0.015625)"/>
<path id="IPAGothicMS-30ea" d="M 1678 4788
L 2222 4788
L 2222 1900
L 1678 1900
L 1678 4788
z
M 4084 4909
L 4628 4909
L 4628 2753
Q 4628 1563 4150 794
Q 3725 119 2772 -353
L 2394 78
Q 3334 494 3706 1094
Q 4084 1706 4084 2728
L 4084 4909
z
" transform="scale(0.015625)"/>
<path id="IPAGothicMS-30b5" d="M 3994 4922
L 4506 4922
L 4506 3531
L 5888 3531
L 5888 3072
L 4506 3072
Q 4488 1719 4153 1063
Q 3728 222 2644 -325
L 2269 38
Q 3325 525 3713 1319
Q 3975 1853 3994 3072
L 2331 3072
L 2331 1575
L 1819 1575
L 1819 3072
L 513 3072
L 513 3531
L 1819 3531
L 1819 4800
L 2331 4800
L 2331 3531
L 3994 3531
L 3994 4922
z
" transform="scale(0.015625)"/>
<path id="IPAGothicMS-30a4" d="M 3081 -231
L 3081 2872
Q 2041 2088 1056 1656
L 731 2059
Q 2966 3000 4419 4916
L 4866 4641
Q 4334 3938 3625 3316
L 3625 -231
L 3081 -231
z
" transform="scale(0.015625)"/>
<path id="IPAGothicMS-30af" d="M 4844 4191
L 5184 3941
Q 4619 1013 2028 -225
L 1656 184
Q 2838 675 3616 1625
Q 4359 2531 4600 3731
L 2778 3731
Q 2184 2681 1319 1959
L 941 2309
Q 2234 3353 2803 5022
L 3297 4881
Q 3234 4672 3016 4191
L 4844 4191
z
" transform="scale(0.015625)"/>
<path id="IPAGothicMS-2f" d="M 2750 5259
L 3006 5147
L 441 -403
L 184 -288
L 2750 5259
z
" transform="scale(0.015625)"/>
<path id="IPAGothicMS-53" d="M 831 1613
Q 869 666 1650 666
Q 1931 666 2119 806
Q 2381 1009 2381 1375
Q 2381 1769 2053 2069
Q 1828 2269 1281 2584
Q 416 3094 416 3800
Q 416 4247 697 4556
Q 1038 4934 1606 4934
Q 2666 4934 2809 3659
L 2284 3659
Q 2263 3953 2163 4128
Q 1963 4481 1606 4481
Q 1238 4481 1056 4231
Q 928 4053 928 3841
Q 928 3334 1753 2853
Q 2263 2556 2534 2284
Q 2900 1928 2900 1381
Q 2900 866 2572 550
Q 2222 197 1666 197
Q 969 197 581 709
Q 313 1066 294 1613
L 831 1613
z
" transform="scale(0.015625)"/>
<path id="IPAGothicMS-4d" d="M 306 4806
L 944 4806
L 1597 1128
L 2250 4806
L 2891 4806
L 2891 325
L 2456 325
L 2456 3803
L 1834 325
L 1363 325
L 766 3803
L 766 325
L 306 325
L 306 4806
z
" transform="scale(0.015625)"/>
<path id="IPAGothicMS-62" d="M 475 4806
L 950 4806
L 950 3022
Q 1341 3488 1794 3488
Q 2266 3488 2563 3078
Q 2875 2641 2875 1875
Q 2875 1338 2709 928
Q 2413 197 1781 197
Q 1259 197 944 722
L 822 325
L 475 325
L 475 4806
z
M 1678 3034
Q 1313 3034 1103 2663
Q 931 2356 931 1875
Q 931 1353 1116 1022
Q 1325 650 1684 650
Q 2000 650 2184 972
Q 2375 1297 2375 1875
Q 2375 2441 2156 2753
Q 1975 3034 1678 3034
z
" transform="scale(0.015625)"/>
<path id="IPAGothicMS-4fa1" d="M 3144 3397
L 3144 4416
L 1831 4416
L 1831 4825
L 6081 4825
L 6081 4416
L 4713 4416
L 4713 3397
L 5850 3397
L 5850 -384
L 5416 -384
L 5416 0
L 2463 0
L 2463 -384
L 2034 -384
L 2034 3397
L 3144 3397
z
M 3572 3397
L 4281 3397
L 4281 4416
L 3572 4416
L 3572 3397
z
M 3169 3013
L 2463 3013
L 2463 391
L 3169 391
L 3169 3013
z
M 3572 3013
L 3572 391
L 4281 391
L 4281 3013
L 3572 3013
z
M 4684 3013
L 4684 391
L 5416 391
L 5416 3013
L 4684 3013
z
M 1394 3816
L 1394 -447
L 966 -447
L 966 2797
Q 756 2369 478 1972
L 244 2369
Q 950 3472 1375 5313
L 1809 5203
Q 1588 4344 1394 3816
z
" transform="scale(0.015625)"/>
<path id="IPAGothicMS-683c" d="M 1281 2650
Q 978 1569 500 806
L 231 1269
Q 866 2141 1231 3584
L 366 3584
L 366 3988
L 1281 3988
L 1281 5306
L 1716 5306
L 1716 3988
L 2534 3988
L 2534 3584
L 1716 3584
L 1716 3072
Q 2163 2719 2572 2331
L 2328 1953
Q 2059 2291 1716 2625
L 1716 -447
L 1281 -447
L 1281 2650
z
M 2938 1747
Q 2716 1613 2516 1509
L 2247 1841
Q 3244 2341 3963 3078
Q 3669 3369 3353 3841
Q 3028 3344 2638 2969
L 2356 3281
Q 3213 4131 3538 5300
L 3956 5184
Q 3834 4813 3834 4806
L 5250 4806
L 5478 4606
Q 5016 3650 4531 3091
Q 5238 2509 6131 2144
L 5838 1731
Q 5766 1766 5516 1900
L 5459 1931
L 5459 -447
L 5019 -447
L 5019 -128
L 3378 -128
L 3378 -447
L 2938 -447
L 2938 1747
z
M 3225 1931
L 5459 1931
Q 5416 1959 5325 2009
Q 4738 2344 4263 2781
Q 3906 2400 3225 1931
z
M 5019 1547
L 3378 1547
L 3378 263
L 5019 263
L 5019 1547
z
M 3672 4422
Q 3625 4331 3556 4184
Q 3825 3781 4225 3372
Q 4588 3809 4903 4422
L 3672 4422
z
" transform="scale(0.015625)"/>
<path id="IPAGothicMS-63a8" d="M 3244 4063
L 4244 4063
Q 4484 4581 4653 5228
L 5125 5100
Q 4913 4484 4691 4063
L 5906 4063
L 5906 3666
L 4647 3666
L 4647 2822
L 5747 2822
L 5747 2438
L 4647 2438
L 4647 1594
L 5747 1594
L 5747 1216
L 4647 1216
L 4647 319
L 6047 319
L 6047 -91
L 3244 -91
L 3244 -481
L 2816 -481
L 2816 3188
L 2791 3128
Q 2581 2744 2366 2463
L 2084 2797
Q 2813 3728 3166 5284
L 3616 5144
Q 3428 4494 3244 4063
z
M 3244 319
L 4231 319
L 4231 1216
L 3244 1216
L 3244 319
z
M 3244 1594
L 4231 1594
L 4231 2438
L 3244 2438
L 3244 1594
z
M 3244 2822
L 4231 2822
L 4231 3666
L 3244 3666
L 3244 2822
z
M 1184 4084
L 1184 5313
L 1613 5313
L 1613 4084
L 2328 4084
L 2328 3669
L 1613 3669
L 1613 2241
Q 1997 2341 2334 2453
L 2359 2069
Q 1809 1884 1631 1831
L 1613 1825
L 1613 44
Q 1613 -194 1522 -294
Q 1413 -403 1081 -403
Q 738 -403 519 -366
L 441 97
Q 741 38 978 38
Q 1184 38 1184 219
L 1184 1703
L 1144 1697
Q 738 1584 409 1509
L 275 1941
Q 722 2022 1138 2119
Q 1147 2122 1166 2125
Q 1175 2128 1184 2131
L 1184 3669
L 372 3669
L 372 4084
L 1184 4084
z
" transform="scale(0.015625)"/>
<path id="IPAGothicMS-79fb" d="M 4691 2419
L 5844 2419
L 6066 2188
Q 5503 1156 4759 513
Q 4078 -75 2975 -469
L 2681 -97
Q 3684 194 4384 728
Q 4094 1056 3731 1356
Q 3381 1053 2919 819
L 2669 1150
Q 3853 1772 4500 2878
L 4909 2772
Q 4772 2528 4691 2419
z
M 4409 2034
Q 4216 1803 4000 1588
Q 4375 1341 4703 1009
Q 5219 1488 5497 2034
L 4409 2034
z
M 1350 2328
Q 1009 1334 513 659
L 263 1081
Q 966 2022 1266 3128
L 366 3128
L 366 3531
L 1350 3531
L 1350 4400
Q 919 4322 575 4266
L 366 4644
Q 1506 4806 2381 5144
L 2700 4747
Q 2241 4600 1784 4491
L 1784 3531
L 2619 3531
L 2619 3128
L 1784 3128
L 1784 2688
Q 2303 2266 2722 1803
L 2444 1356
Q 2103 1841 1784 2181
L 1784 -447
L 1350 -447
L 1350 2328
z
M 4275 4800
L 5491 4800
L 5709 4609
Q 4759 2809 2872 2047
L 2603 2388
Q 3534 2722 4134 3244
Q 3869 3519 3450 3794
Q 3184 3569 2859 3359
L 2591 3666
Q 3578 4259 4056 5288
L 4478 5191
Q 4403 5034 4275 4800
z
M 4019 4416
Q 3856 4194 3700 4038
Q 4128 3759 4372 3553
L 4416 3513
Q 4884 3991 5119 4416
L 4019 4416
z
" transform="scale(0.015625)"/>
<path id="IPAGothicMS-904e" d="M 1703 741
Q 1975 363 2503 209
Q 2906 94 3931 94
Q 4897 94 6131 178
Q 6025 -59 5978 -300
Q 4931 -341 4384 -341
Q 2819 -341 2234 -128
Q 1763 44 1525 397
Q 1113 -81 653 -447
L 372 19
Q 900 341 1269 672
L 1269 2303
L 378 2303
L 378 2731
L 1703 2731
L 1703 741
z
M 5338 2778
L 2594 2778
L 2594 428
L 2178 428
L 2178 3138
L 2594 3138
L 2594 5025
L 5338 5025
L 5338 3138
L 5753 3138
L 5753 875
Q 5753 597 5638 513
Q 5547 441 5313 441
Q 5019 441 4713 478
L 4659 903
Q 4956 850 5184 850
Q 5338 850 5338 1016
L 5338 2778
z
M 4934 3138
L 4934 3784
L 4041 3784
L 4041 3138
L 4934 3138
z
M 3663 3138
L 3663 4116
L 4934 4116
L 4934 4666
L 3003 4666
L 3003 3138
L 3663 3138
z
M 4750 2350
L 4750 1113
L 3469 1113
L 3469 781
L 3091 781
L 3091 2350
L 4750 2350
z
M 3469 2019
L 3469 1453
L 4372 1453
L 4372 2019
L 3469 2019
z
M 1525 3775
Q 1053 4353 563 4738
L 878 5056
Q 1497 4566 1869 4122
L 1525 3775
z
" transform="scale(0.015625)"/>
<path id="IPAGothicMS-53bb" d="M 3009 2169
Q 3003 2150 2988 2131
Q 2634 1163 2144 344
L 2375 363
Q 3003 400 3963 497
L 4697 575
Q 4322 1025 3909 1419
L 4281 1650
Q 5041 956 5834 -34
L 5431 -347
Q 5347 -234 5200 -47
Q 5038 163 4991 222
Q 3384 -22 959 -213
L 800 269
Q 888 272 1153 288
Q 1428 303 1606 313
L 1656 403
Q 2147 1250 2491 2169
L 447 2169
L 447 2584
L 2931 2584
L 2931 3744
L 959 3744
L 959 4159
L 2931 4159
L 2931 5216
L 3419 5216
L 3419 4159
L 5438 4159
L 5438 3744
L 3419 3744
L 3419 2584
L 5950 2584
L 5950 2169
L 3009 2169
z
" transform="scale(0.015625)"/>
<path id="IPAGothicMS-9593" d="M 4450 2566
L 4450 353
L 2375 353
L 2375 -25
L 1953 -25
L 1953 2566
L 4450 2566
z
M 4028 2200
L 2375 2200
L 2375 1653
L 4028 1653
L 4028 2200
z
M 4028 1300
L 2375 1300
L 2375 719
L 4028 719
L 4028 1300
z
M 2913 5019
L 2913 3059
L 1056 3059
L 1056 -447
L 609 -447
L 609 5019
L 2913 5019
z
M 1056 4659
L 1056 4206
L 2497 4206
L 2497 4659
L 1056 4659
z
M 1056 3881
L 1056 3413
L 2497 3413
L 2497 3881
L 1056 3881
z
M 5788 5019
L 5788 91
Q 5788 -225 5641 -331
Q 5525 -409 5231 -409
Q 4800 -409 4481 -366
L 4419 97
Q 4853 38 5128 38
Q 5341 38 5341 244
L 5341 3059
L 3438 3059
L 3438 5019
L 5788 5019
z
M 3853 4659
L 3853 4206
L 5341 4206
L 5341 4659
L 3853 4659
z
M 3853 3881
L 3853 3413
L 5341 3413
L 5341 3881
L 3853 3881
z
" transform="scale(0.015625)"/>
</defs>
<use href="#IPAGothicMS-30a8"/>
<use href="#IPAGothicMS-30cd" transform="translate(100 0)"/>
<use href="#IPAGothicMS-30eb" transform="translate(200 0)"/>
<use href="#IPAGothicMS-30ae" transform="translate(300 0)"/>
<use href="#IPAGothicMS-30fc" transform="translate(400 0)"/>
<use href="#IPAGothicMS-30ea" transform="translate(500 0)"/>
<use href="#IPAGothicMS-30b5" transform="translate(600 0)"/>
<use href="#IPAGothicMS-30a4" transform="translate(700 0)"/>
<use href="#IPAGothicMS-30af" transform="translate(800 0)"/>
<use href="#IPAGothicMS-30eb" transform="translate(900 0)"/>
<use href="#IPAGothicMS-2f" transform="translate(1000 0)"/>
<use href="#IPAGothicMS-53" transform="translate(1050 0)"/>
<use href="#IPAGothicMS-4d" transform="translate(1100 0)"/>
<use href="#IPAGothicMS-38" transform="translate(1150 0)"/>
<use href="#IPAGothicMS-62" transform="translate(1200 0)"/>
<use href="#IPAGothicMS-2f" transform="translate(1250 0)"/>
<use href="#IPAGothicMS-2d" transform="translate(1300 0)"/>
<use href="#IPAGothicMS-20" transform="translate(1350 0)"/>
<use href="#IPAGothicMS-4fa1" transform="translate(1400 0)"/>
<use href="#IPAGothicMS-683c" transform="translate(1500 0)"/>
<use href="#IPAGothicMS-63a8" transform="translate(1600 0)"/>
<use href="#IPAGothicMS-79fb" transform="translate(1700 0)"/>
<use href="#IPAGothicMS-28" transform="translate(1800 0)"/>
<use href="#IPAGothicMS-904e" transform="translate(1850 0)"/>
<use href="#IPAGothicMS-53bb" transform="translate(1950 0)"/>
<use href="#IPAGothicMS-33" transform="translate(2050 0)"/>
<use href="#IPAGothicMS-30" transform="translate(2100 0)"/>
<use href="#IPAGothicMS-65e5" transform="translate(2150 0)"/>
<use href="#IPAGothicMS-9593" transform="translate(2250 0)"/>
<use href="#IPAGothicMS-29" transform="translate(2350 0)"/>
</g>
</g>
<g id="legend_1">
<g id="patch_7">
<path d="M 53.4472 92.52 L 115.4472 92.52 Q 117.4472 92.52 117.4472 90.509257 L 117.4472 34.050743 Q 117.4472 32.04 115.4472 32.04 L 53.4472 32.04 Q 51.4472 32.04 51.4472 34.050743 L 51.4472 90.509257 Q 51.4472 92.52 53.4472 92.52 z" style="fill: #ffffff; opacity: 0.8; stroke: #cccccc; stroke-linejoin: miter"/>
</g>
<g id="line2d_37">
<path d="M 55.44 40.32 L 65.52 40.32 L 75.6 40.32" style="fill: none; stroke: #37cc69; stroke-width: 1.5; stroke-linecap: square"/>
<g>
<use href="#mdca675d4f2" x="65.88" y="40.68" style="fill: #37cc69; stroke: #37cc69"/>
</g>
</g>
<g id="text_20">
<!-- 平均値 -->
<g transform="translate(83.8072 43.946625) scale(0.1 -0.1)">
<defs>
<path id="IPAGothicMS-5e73" d="M 3419 4428
L 3419 1941
L 6078 1941
L 6078 1513
L 3419 1513
L 3419 -447
L 2931 -447
L 2931 1513
L 319 1513
L 319 1941
L 2931 1941
L 2931 4428
L 638 4428
L 638 4856
L 5759 4856
L 5759 4428
L 3419 4428
z
M 1728 2278
Q 1488 3094 1081 3859
L 1541 4038
Q 1872 3422 2219 2472
L 1728 2278
z
M 4134 2425
Q 4506 3138 4813 4128
L 5303 3944
Q 4984 3006 4569 2228
L 4134 2425
z
" transform="scale(0.015625)"/>
<path id="IPAGothicMS-5747" d="M 1206 3794
L 1206 5147
L 1659 5147
L 1659 3794
L 2369 3794
L 2369 3372
L 1659 3372
L 1659 1325
Q 2081 1516 2481 1722
L 2566 1313
Q 1556 778 559 397
L 334 838
Q 803 975 1206 1138
L 1206 3372
L 413 3372
L 413 3794
L 1206 3794
z
M 3475 4244
L 5844 4244
Q 5834 1131 5619 184
Q 5494 -366 4838 -366
Q 4369 -366 3859 -306
L 3769 184
Q 4241 88 4731 88
Q 5059 88 5147 306
Q 5359 919 5369 3828
L 3316 3828
Q 3013 3119 2466 2472
L 2150 2828
Q 2944 3788 3259 5263
L 3719 5147
Q 3619 4663 3475 4244
z
M 2978 2847
L 4681 2847
L 4681 2431
L 2978 2431
L 2978 2847
z
M 2559 1044
Q 3747 1338 4838 1797
L 4891 1388
Q 3831 891 2766 588
L 2559 1044
z
" transform="scale(0.015625)"/>
</defs>
<use href="#IPAGothicMS-5e73"/>
<use href="#IPAGothicMS-5747" transform="translate(100 0)"/>
<use href="#IPAGothicMS-5024" transform="translate(200 0)"/>
</g>
</g>
<g id="line2d_38">
<path d="M 55.44 54.72 L 65.52 54.72 L 75.6 54.72" style="fill: none; stroke: #ffa500; stroke-width: 1.5; stroke-linecap: square"/>
<g>
<use href="#m3cc280db12" x="65.88" y="55.08" style="fill: #ffa500; stroke: #ffa500"/>
</g>
</g>
<g id="text_21">
<!-- 中央値 -->
<g transform="translate(83.8072 58.235375) scale(0.1 -0.1)">
<defs>
<path id="IPAGothicMS-4e2d" d="M 2925 3950
L 2925 5209
L 3425 5209
L 3425 3950
L 5613 3950
L 5613 1125
L 5125 1125
L 5125 1594
L 3425 1594
L 3425 -447
L 2925 -447
L 2925 1594
L 1263 1594
L 1263 1094
L 775 1094
L 775 3950
L 2925 3950
z
M 1263 3534
L 1263 2009
L 2925 2009
L 2925 3534
L 1263 3534
z
M 5125 2009
L 5125 3534
L 3425 3534
L 3425 2009
L 5125 2009
z
" transform="scale(0.015625)"/>
<path id="IPAGothicMS-592e" d="M 3578 1947
Q 4238 694 5972 134
L 5634 -294
Q 3847 378 3253 1750
Q 2916 216 809 -403
L 506 16
Q 2547 475 2894 1947
L 353 1947
L 353 2363
L 1256 2363
L 1256 4178
L 2938 4178
L 2938 5216
L 3413 5216
L 3413 4178
L 5141 4178
L 5141 2363
L 6044 2363
L 6044 1947
L 3578 1947
z
M 2938 3763
L 1703 3763
L 1703 2363
L 2938 2363
L 2938 3763
z
M 3413 3763
L 3413 2363
L 4688 2363
L 4688 3763
L 3413 3763
z
" transform="scale(0.015625)"/>
</defs>
<use href="#IPAGothicMS-4e2d"/>
<use href="#IPAGothicMS-592e" transform="translate(100 0)"/>
<use href="#IPAGothicMS-5024" transform="translate(200 0)"/>
</g>
</g>
<g id="line2d_39">
<path d="M 55.44 69.12 L 65.52 69.12 L 75.6 69.12" style="fill: none; stroke: #ff4d4d; stroke-width: 1.5; stroke-linecap: square"/>
<g>
<use href="#m071e3672fa" x="65.88" y="69.48" style="fill: #ff4d4d; stroke: #ff4d4d"/>
</g>
</g>
<g id="text_22">
<!-- 最高値 -->
<g transform="translate(83.8072 72.660062) scale(0.1 -0.1)">
<defs>
<path id="IPAGothicMS-6700" d="M 5106 5050
L 5106 3275
L 1288 3275
L 1288 5050
L 5106 5050
z
M 1741 4697
L 1741 4331
L 4659 4331
L 4659 4697
L 1741 4697
z
M 1741 4000
L 1741 3622
L 4659 3622
L 4659 4000
L 1741 4000
z
M 2925 2528
L 2925 -447
L 2503 -447
L 2503 231
Q 1875 97 525 -75
L 409 359
Q 491 363 609 372
Q 728 381 756 384
L 994 403
L 994 2528
L 384 2528
L 384 2900
L 6016 2900
L 6016 2528
L 2925 2528
z
M 2503 2528
L 1403 2528
L 1403 2088
L 2503 2088
L 2503 2528
z
M 2503 1763
L 1403 1763
L 1403 1309
L 2503 1309
L 2503 1763
z
M 2503 984
L 1403 984
L 1403 434
L 1763 472
Q 2159 500 2503 550
L 2503 984
z
M 4844 588
Q 5350 225 6047 -9
L 5753 -419
Q 5066 -128 4556 288
Q 4000 -241 3281 -534
L 3006 -163
Q 3738 84 4263 563
Q 3722 1141 3463 1803
L 3084 1803
L 3084 2169
L 5428 2169
L 5656 1963
Q 5328 1178 4881 638
L 4844 588
z
M 4538 850
Q 4884 1275 5119 1803
L 3872 1803
Q 4113 1275 4538 850
z
" transform="scale(0.015625)"/>
<path id="IPAGothicMS-9ad8" d="M 4481 1588
L 4481 366
L 2319 366
L 2319 0
L 1891 0
L 1891 1588
L 4481 1588
z
M 4053 1247
L 2319 1247
L 2319 706
L 4053 706
L 4053 1247
z
M 3419 4641
L 5916 4641
L 5916 4263
L 481 4263
L 481 4641
L 2938 4641
L 2938 5313
L 3419 5313
L 3419 4641
z
M 4884 3878
L 4884 2694
L 1513 2694
L 1513 3878
L 4884 3878
z
M 1959 3531
L 1959 3041
L 4438 3041
L 4438 3531
L 1959 3531
z
M 5684 2309
L 5684 103
Q 5684 -378 5091 -378
Q 4703 -378 4316 -350
L 4253 109
Q 4706 44 5006 44
Q 5231 44 5231 250
L 5231 1944
L 1166 1944
L 1166 -447
L 713 -447
L 713 2309
L 5684 2309
z
" transform="scale(0.015625)"/>
</defs>
<use href="#IPAGothicMS-6700"/>
<use href="#IPAGothicMS-9ad8" transform="translate(100 0)"/>
<use href="#IPAGothicMS-5024" transform="translate(200 0)"/>
</g>
</g>
<g id="line2d_40">
<path d="M 55.44 83.52 L 65.52 83.52 L 75.6 83.52" style="fill: none; stroke: #4d96ff; stroke-width: 1.5; stroke-linecap: square"/>
<g>
<use href="#mcde957ec9b" x="65.88" y="83.88" style="fill: #4d96ff; stroke: #4d96ff"/>
</g>
</g>
<g id="text_23">
<!-- 最安値 -->
<g transform="translate(83.8072 87.08475) scale(0.1 -0.1)">
<defs>
<path id="IPAGothicMS-5b89" d="M 4728 2381
Q 4484 1484 3969 872
Q 5038 403 5778 31
L 5397 -353
Q 4466 163 3616 538
Q 2703 -194 838 -403
L 550 31
Q 2272 166 3150 738
Q 2625 963 1925 1216
Q 1863 1119 1663 831
L 1259 1050
Q 1684 1650 2088 2381
L 416 2381
L 416 2784
L 2284 2784
Q 2563 3388 2713 3828
L 3169 3706
Q 2972 3178 2791 2784
L 5984 2784
L 5984 2381
L 4728 2381
z
M 4244 2381
L 2600 2381
Q 2459 2097 2209 1659
L 2150 1563
Q 2750 1359 3366 1113
L 3525 1050
Q 4019 1572 4244 2381
z
M 3419 4428
L 5753 4428
L 5753 3163
L 5278 3163
L 5278 4025
L 1116 4025
L 1116 3163
L 641 3163
L 641 4428
L 2931 4428
L 2931 5313
L 3419 5313
L 3419 4428
z
" transform="scale(0.015625)"/>
</defs>
<use href="#IPAGothicMS-6700"/>
<use href="#IPAGothicMS-5b89" transform="translate(100 0)"/>
<use href="#IPAGothicMS-5024" transform="translate(200 0)"/>
</g>
</g>
</g>
</g>
</g>
<defs>
<clipPath id="p00c736a23d">
<rect x="46.4472" y="26.64" width="662.7528" height="331.92"/>
</clipPath>
</defs>
</svg>

</body></html>
